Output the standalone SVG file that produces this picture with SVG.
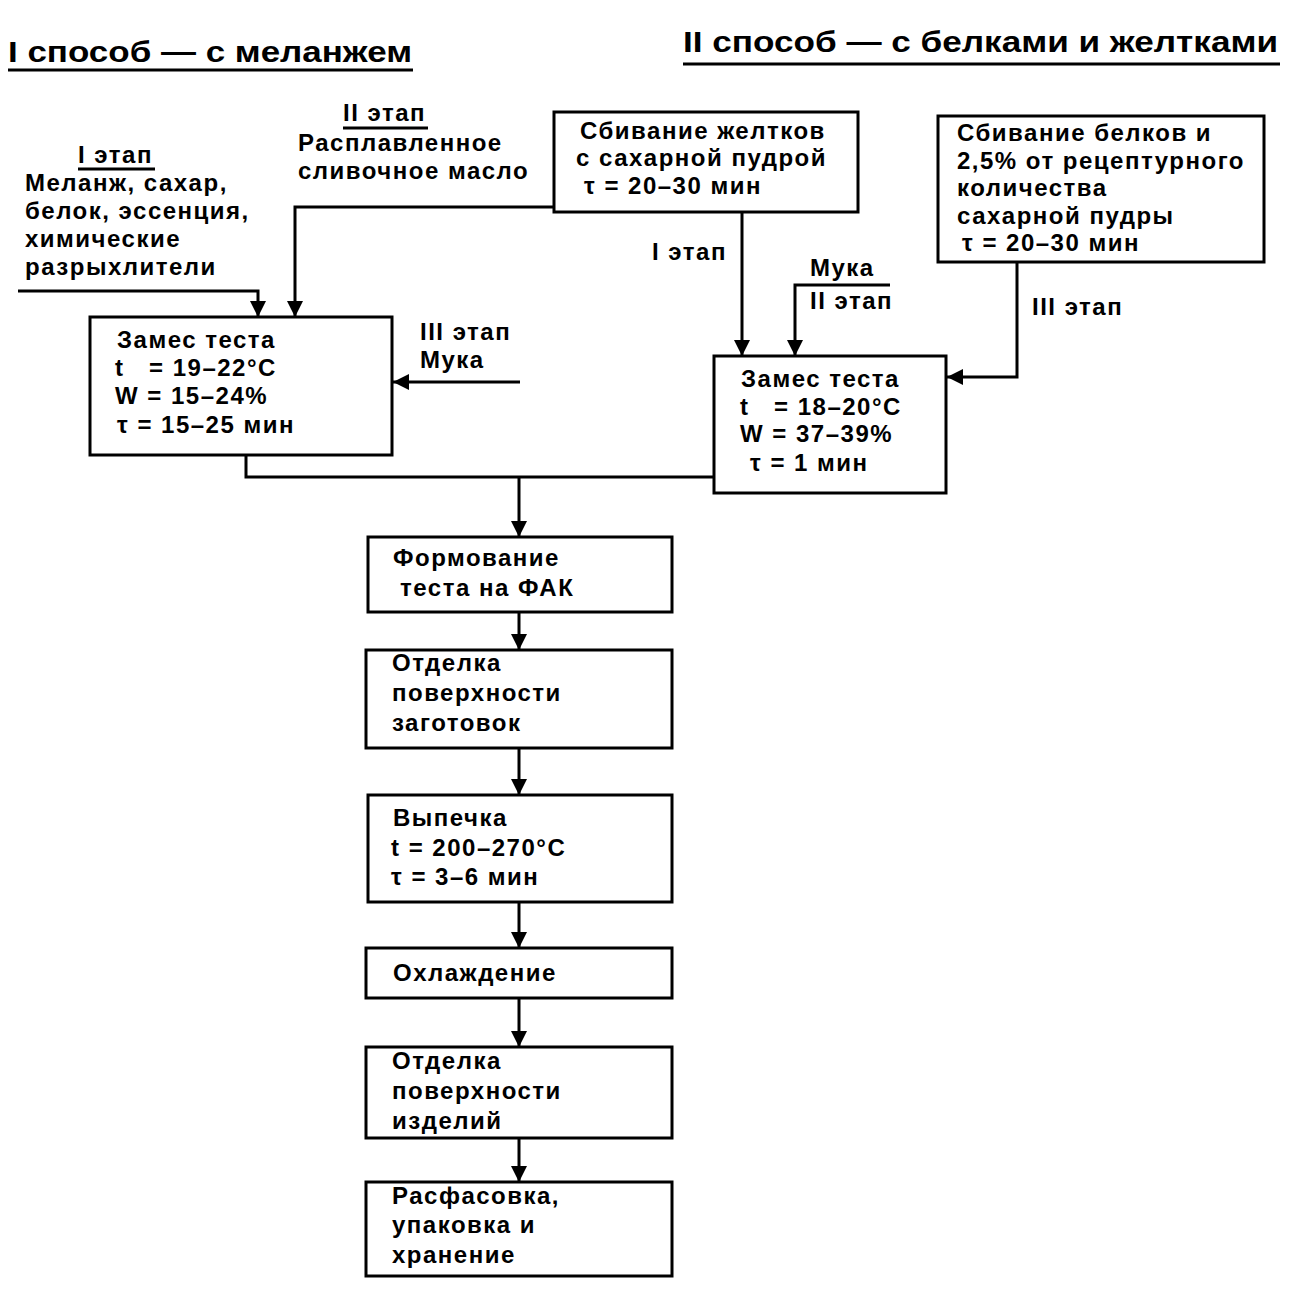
<svg xmlns="http://www.w3.org/2000/svg" width="1304" height="1310" viewBox="0 0 1304 1310">
<defs>
<style>
text{font-family:"Liberation Sans",Arial,sans-serif;font-weight:bold;font-size:24px;letter-spacing:1.5px;fill:#000}
.title{font-size:30px;letter-spacing:0}
.box{fill:#fff;stroke:#000;stroke-width:3}
.ln{fill:none;stroke:#000;stroke-width:3}
.ul{stroke:#000;stroke-width:3}
</style>
<marker id="ah" markerUnits="userSpaceOnUse" markerWidth="16" markerHeight="20" viewBox="0 0 16 20" refX="16" refY="10" orient="auto">
<path d="M0,2 L16,10 L0,18 Z" fill="#000"/>
</marker>
</defs>
<rect width="1304" height="1310" fill="#fff"/>

<g id="titles">
<text class="title" x="8" y="62" textLength="404" lengthAdjust="spacingAndGlyphs">I способ — с меланжем</text>
<line class="ul" x1="8" y1="70" x2="413" y2="70"/>
<text class="title" x="683" y="52" textLength="595" lengthAdjust="spacingAndGlyphs">II способ — с белками и желтками</text>
<line class="ul" x1="683" y1="64" x2="1280" y2="64"/>
</g>

<g id="connectors">
<polyline class="ln" points="18,291 258,291 258,317" marker-end="url(#ah)"/>
<polyline class="ln" points="554,207 295,207 295,317" marker-end="url(#ah)"/>
<line class="ln" x1="520" y1="382" x2="393" y2="382" marker-end="url(#ah)"/>
<line class="ln" x1="742" y1="212" x2="742" y2="356" marker-end="url(#ah)"/>
<polyline class="ln" points="890,285 795,285 795,356" marker-end="url(#ah)"/>
<polyline class="ln" points="1017,262 1017,377 947,377" marker-end="url(#ah)"/>
<polyline class="ln" points="246,455 246,477 714,477"/>
<line class="ln" x1="519" y1="477" x2="519" y2="537" marker-end="url(#ah)"/>
<line class="ln" x1="519" y1="612" x2="519" y2="650" marker-end="url(#ah)"/>
<line class="ln" x1="519" y1="748" x2="519" y2="795" marker-end="url(#ah)"/>
<line class="ln" x1="519" y1="902" x2="519" y2="948" marker-end="url(#ah)"/>
<line class="ln" x1="519" y1="998" x2="519" y2="1047" marker-end="url(#ah)"/>
<line class="ln" x1="519" y1="1138" x2="519" y2="1182" marker-end="url(#ah)"/>
</g>

<g id="label-stage1-left">
<text x="78" y="163">I этап</text>
<line class="ul" x1="78" y1="169" x2="155" y2="169"/>
<text x="25" y="191">Меланж, сахар,</text>
<text x="25" y="219">белок, эссенция,</text>
<text x="25" y="247">химические</text>
<text x="25" y="275">разрыхлители</text>
</g>

<g id="label-stage2-left">
<text x="343" y="121">II этап</text>
<line class="ul" x1="343" y1="128" x2="428" y2="128"/>
<text x="298" y="151">Расплавленное</text>
<text x="298" y="179">сливочное масло</text>
</g>

<g id="label-stage3-left">
<text x="420" y="340">III этап</text>
<text x="420" y="368">Мука</text>
</g>

<g id="node-yolks">
<rect class="box" x="554" y="112" width="304" height="100"/>
<text x="580" y="139">Сбивание желтков</text>
<text x="576" y="166">с сахарной пудрой</text>
<text x="584" y="194">τ = 20–30 мин</text>
</g>

<g id="node-whites">
<rect class="box" x="938" y="116" width="326" height="146"/>
<text x="957" y="141">Сбивание белков и</text>
<text x="957" y="169">2,5% от рецептурного</text>
<text x="957" y="196">количества</text>
<text x="957" y="224">сахарной пудры</text>
<text x="962" y="251">τ = 20–30 мин</text>
</g>

<g id="labels-right">
<text x="652" y="260">I этап</text>
<text x="810" y="276">Мука</text>
<text x="810" y="309">II этап</text>
<text x="1032" y="315">III этап</text>
</g>

<g id="node-mix-left">
<rect class="box" x="90" y="317" width="302" height="138"/>
<text x="117" y="348">Замес теста</text>
<text x="115" y="376" xml:space="preserve">t   = 19–22°C</text>
<text x="115" y="404">W = 15–24%</text>
<text x="117" y="433">τ = 15–25 мин</text>
</g>

<g id="node-mix-right">
<rect class="box" x="714" y="356" width="232" height="137"/>
<text x="741" y="387">Замес теста</text>
<text x="740" y="415" xml:space="preserve">t   = 18–20°C</text>
<text x="740" y="442">W = 37–39%</text>
<text x="750" y="471">τ = 1 мин</text>
</g>

<g id="node-forming">
<rect class="box" x="368" y="537" width="304" height="75"/>
<text x="393" y="566">Формование</text>
<text x="400" y="596">теста на ФАК</text>
</g>

<g id="node-finish1">
<rect class="box" x="366" y="650" width="306" height="98"/>
<text x="392" y="671">Отделка</text>
<text x="392" y="701">поверхности</text>
<text x="392" y="731">заготовок</text>
</g>

<g id="node-baking">
<rect class="box" x="368" y="795" width="304" height="107"/>
<text x="393" y="826">Выпечка</text>
<text x="391" y="856">t = 200–270°C</text>
<text x="391" y="885">τ = 3–6 мин</text>
</g>

<g id="node-cooling">
<rect class="box" x="366" y="948" width="306" height="50"/>
<text x="393" y="981">Охлаждение</text>
</g>

<g id="node-finish2">
<rect class="box" x="366" y="1047" width="306" height="91"/>
<text x="392" y="1069">Отделка</text>
<text x="392" y="1099">поверхности</text>
<text x="392" y="1129">изделий</text>
</g>

<g id="node-packing">
<rect class="box" x="366" y="1182" width="306" height="94"/>
<text x="392" y="1204">Расфасовка,</text>
<text x="392" y="1233">упаковка и</text>
<text x="392" y="1263">хранение</text>
</g>
</svg>
